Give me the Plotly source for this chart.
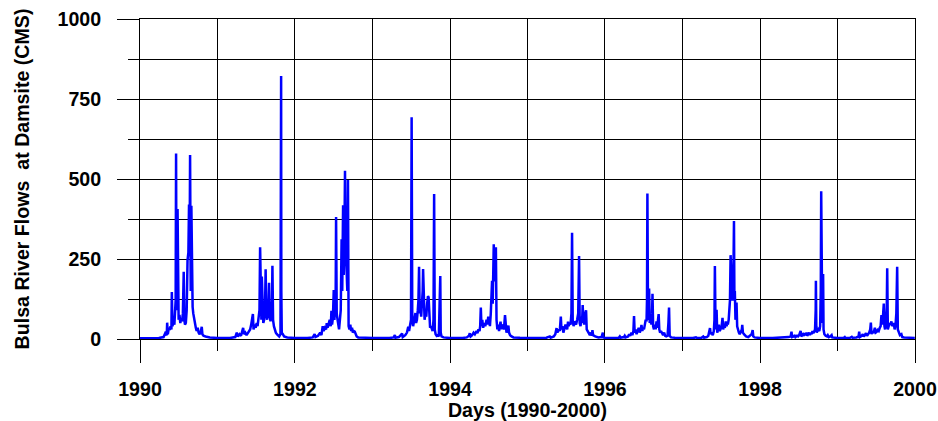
import pandas as pd
import plotly.graph_objects as go

# ---- Data (day-of-year, flow in CMS) ----
days_1990 = [1, 90, 112, 120, 127, 129, 132, 137, 141, 145, 149, 151, 154, 158, 163, 166, 169, 171, 173, 176, 178, 180, 183, 187, 191, 195, 199, 203, 207, 210, 213, 217, 221, 225, 229, 232, 235, 237, 240, 243, 246, 249, 252, 256, 260, 264, 268, 273, 277, 282, 287, 292, 295, 300, 310, 330, 365]
flow_1990 = [2, 3, 6, 18, 12, 51, 15, 35, 28, 40, 30, 147, 40, 55, 45, 70, 120, 580, 90, 150, 406, 70, 60, 75, 50, 65, 55, 80, 210, 60, 45, 50, 90, 247, 270, 420, 300, 575, 150, 416, 120, 100, 80, 60, 45, 35, 25, 35, 20, 15, 22, 38, 15, 10, 8, 5, 3]

days_1991 = [1, 60, 85, 92, 97, 105, 112, 118, 122, 126, 132, 138, 145, 150, 155, 160, 165, 168, 171, 176, 181, 186, 190, 195, 199, 202, 205, 208, 210, 213, 217, 221, 225, 228, 231, 235, 238, 241, 244, 247, 251, 255, 258, 260, 263, 267, 271, 276, 281, 286, 292, 298, 300, 301, 302, 304, 309, 315, 330, 365]
flow_1991 = [3, 3, 6, 20, 8, 15, 10, 25, 35, 15, 20, 12, 18, 25, 30, 45, 60, 78, 30, 45, 35, 50, 40, 60, 90, 287, 80, 60, 195, 70, 50, 60, 90, 218, 80, 60, 110, 100, 176, 70, 55, 80, 120, 229, 60, 40, 30, 20, 15, 10, 8, 15, 400, 822, 150, 20, 15, 8, 5, 3]

days_1992 = [1, 60, 85, 94, 98, 110, 120, 126, 132, 136, 142, 148, 151, 155, 160, 165, 170, 173, 176, 180, 184, 187, 190, 193, 195, 198, 202, 206, 209, 213, 217, 221, 224, 228, 231, 234, 237, 240, 244, 248, 251, 254, 258, 262, 266, 270, 274, 278, 283, 287, 292, 299, 320, 365]
flow_1992 = [3, 3, 5, 15, 6, 10, 20, 12, 40, 25, 35, 30, 50, 35, 45, 60, 40, 88, 45, 65, 153, 60, 90, 130, 381, 80, 60, 45, 30, 60, 90, 312, 150, 418, 200, 300, 526, 300, 200, 150, 497, 40, 30, 45, 25, 35, 20, 25, 23, 12, 8, 5, 4, 3]

days_1993 = [1, 80, 100, 106, 109, 125, 140, 143, 155, 163, 169, 173, 178, 182, 185, 188, 192, 196, 200, 203, 206, 210, 214, 217, 220, 223, 226, 230, 234, 237, 239, 242, 246, 250, 254, 258, 262, 265, 268, 272, 276, 280, 284, 288, 291, 294, 298, 303, 308, 313, 318, 320, 322, 326, 335, 365]
flow_1993 = [3, 3, 5, 12, 4, 6, 17, 6, 12, 20, 38, 25, 45, 60, 693, 60, 40, 55, 70, 81, 50, 60, 90, 120, 226, 80, 100, 70, 120, 150, 219, 90, 60, 80, 70, 110, 134, 130, 50, 35, 40, 30, 25, 60, 453, 30, 15, 10, 12, 8, 100, 197, 20, 8, 5, 3]

days_1994 = [1, 60, 80, 90, 94, 98, 105, 112, 118, 126, 130, 135, 140, 143, 146, 149, 153, 157, 162, 167, 173, 177, 181, 185, 189, 193, 196, 199, 202, 205, 207, 210, 214, 217, 220, 224, 228, 232, 236, 239, 242, 246, 251, 255, 260, 263, 267, 272, 276, 279, 284, 291, 300, 330, 365]
flow_1994 = [3, 3, 5, 10, 18, 8, 12, 20, 15, 25, 18, 30, 25, 40, 98, 40, 60, 35, 50, 40, 60, 45, 70, 60, 40, 80, 128, 182, 110, 180, 296, 200, 180, 287, 60, 30, 45, 25, 40, 54, 30, 45, 40, 30, 75, 35, 20, 28, 42, 20, 12, 8, 5, 4, 3]

days_1995 = [1, 60, 90, 106, 110, 125, 132, 138, 142, 148, 153, 158, 161, 165, 170, 175, 180, 185, 188, 192, 195, 200, 204, 208, 211, 214, 218, 222, 226, 230, 235, 240, 244, 247, 251, 255, 258, 261, 264, 268, 273, 277, 280, 285, 290, 295, 300, 304, 307, 310, 320, 335, 350, 356, 358, 365]
flow_1995 = [3, 3, 4, 8, 4, 8, 15, 34, 20, 30, 25, 70, 30, 40, 20, 35, 45, 40, 30, 54, 40, 50, 45, 80, 332, 60, 40, 55, 50, 45, 60, 80, 259, 50, 40, 70, 50, 106, 60, 45, 80, 90, 30, 25, 18, 12, 20, 10, 28, 12, 8, 5, 6, 20, 5, 3]

days_1996 = [1, 50, 66, 71, 75, 90, 94, 98, 110, 115, 120, 126, 130, 135, 138, 141, 145, 150, 155, 160, 165, 170, 173, 177, 181, 185, 189, 193, 197, 199, 201, 204, 207, 209, 212, 216, 220, 223, 225, 228, 232, 236, 240, 244, 248, 251, 254, 257, 261, 265, 270, 275, 280, 285, 290, 296, 300, 303, 306, 312, 330, 365]
flow_1996 = [3, 3, 4, 8, 4, 6, 10, 5, 8, 15, 10, 20, 12, 25, 72, 20, 30, 15, 25, 35, 20, 30, 44, 25, 35, 30, 45, 60, 55, 120, 455, 60, 80, 158, 50, 60, 45, 80, 141, 40, 30, 45, 30, 55, 35, 60, 78, 30, 20, 25, 15, 12, 20, 10, 8, 10, 50, 98, 10, 5, 4, 3]

days_1997 = [1, 50, 64, 70, 90, 98, 102, 115, 122, 126, 130, 133, 138, 143, 148, 151, 153, 156, 158, 161, 164, 168, 172, 176, 180, 185, 189, 192, 196, 200, 204, 208, 211, 214, 218, 221, 224, 227, 230, 233, 236, 240, 243, 245, 247, 250, 253, 255, 258, 262, 266, 270, 275, 280, 282, 285, 290, 295, 300, 310, 320, 326, 331, 334, 340, 365]
flow_1997 = [3, 3, 5, 3, 4, 8, 4, 6, 10, 20, 34, 15, 20, 12, 25, 60, 228, 40, 30, 91, 20, 30, 45, 25, 35, 40, 66, 30, 40, 35, 55, 40, 50, 45, 60, 100, 120, 262, 200, 150, 120, 180, 369, 120, 150, 60, 90, 114, 40, 25, 20, 15, 25, 30, 44, 20, 15, 10, 8, 6, 10, 15, 28, 8, 5, 3]

days_1998 = [1, 60, 100, 120, 135, 145, 149, 152, 160, 165, 168, 175, 180, 185, 189, 192, 195, 200, 203, 207, 212, 216, 220, 223, 228, 232, 236, 240, 244, 248, 252, 256, 260, 263, 264, 266, 268, 271, 275, 280, 284, 287, 289, 291, 294, 296, 298, 300, 304, 310, 316, 320, 325, 332, 338, 341, 350, 365]
flow_1998 = [3, 3, 4, 5, 6, 8, 23, 6, 8, 12, 6, 10, 8, 12, 20, 25, 8, 12, 15, 10, 18, 12, 20, 10, 15, 20, 12, 20, 15, 25, 18, 22, 30, 90, 182, 40, 20, 25, 30, 25, 40, 150, 462, 120, 50, 80, 203, 30, 15, 10, 8, 12, 6, 8, 12, 5, 4, 3]

days_1999 = [1, 30, 35, 38, 60, 68, 72, 90, 100, 103, 106, 115, 120, 125, 130, 135, 140, 145, 150, 155, 158, 161, 165, 170, 174, 177, 181, 185, 190, 195, 200, 204, 208, 211, 215, 219, 222, 225, 230, 233, 235, 238, 242, 246, 250, 255, 258, 262, 266, 270, 274, 278, 280, 282, 285, 290, 295, 302, 306, 315, 330, 365]
flow_1999 = [3, 3, 6, 3, 4, 7, 4, 5, 8, 23, 6, 10, 15, 8, 12, 18, 10, 15, 20, 30, 51, 15, 25, 18, 30, 35, 20, 22, 28, 25, 35, 40, 75, 45, 70, 111, 40, 30, 50, 100, 221, 30, 40, 50, 45, 55, 40, 45, 50, 30, 40, 80, 180, 226, 30, 20, 12, 15, 6, 5, 4, 3]

years = list(range(1990, 2000))
day_lists = [days_1990, days_1991, days_1992, days_1993, days_1994,
             days_1995, days_1996, days_1997, days_1998, days_1999]
flow_lists = [flow_1990, flow_1991, flow_1992, flow_1993, flow_1994,
              flow_1995, flow_1996, flow_1997, flow_1998, flow_1999]

y_ticks = [0, 250, 500, 750, 1000]
x_tick_labels = ["1990", "1992", "1994", "1996", "1998", "2000"]

# ---- build the series ----
dates, flows = [], []
for yr, dl, fl in zip(years, day_lists, flow_lists):
    start = pd.Timestamp(f"{yr}-01-01")
    for d, v in zip(dl, fl):
        dates.append(start + pd.Timedelta(days=d - 1))
        flows.append(v)

FONT = "Liberation Sans, Arial, sans-serif"
FS = 19.6

fig = go.Figure()
fig.add_trace(go.Scatter(
    x=dates, y=flows, mode="lines",
    line=dict(color="#0000FF", width=2.5),
    hoverinfo="skip", showlegend=False,
))

fig.update_layout(
    width=938, height=421,
    margin=dict(l=140, r=23, t=19, b=82),
    paper_bgcolor="white", plot_bgcolor="white",
    font=dict(family=FONT, size=FS, color="black"),
)

fig.update_xaxes(
    type="date",
    automargin=False,
    range=["1990-01-01", "2000-01-01"],
    tickvals=[f"{t}-01-01" for t in x_tick_labels],
    ticktext=[f"<b>{t}</b>" for t in x_tick_labels],
    ticks="outside", ticklen=23, tickwidth=1, tickcolor="black",
    ticklabelstandoff=9,
    showgrid=True, gridcolor="black", gridwidth=1,
    minor=dict(dtick="M12", tick0="1990-01-01", ticks="outside", ticklen=11,
               tickcolor="black", showgrid=True, gridcolor="black", gridwidth=1),
    showline=True, linecolor="black", linewidth=1, mirror=True,
    zeroline=False,
    layer="below traces",
    title=dict(text="<b>Days (1990-2000)</b>", font=dict(size=FS), standoff=1),
)

fig.update_yaxes(
    automargin=False,
    range=[0, 1000],
    tickvals=y_ticks,
    ticktext=[f"<b>{v}</b>" for v in y_ticks],
    ticks="outside", ticklen=22, tickwidth=1, tickcolor="black",
    ticklabelstandoff=12,
    showgrid=True, gridcolor="black", gridwidth=1,
    minor=dict(dtick=125, tick0=0, ticks="outside", ticklen=11,
               tickcolor="black", showgrid=True, gridcolor="black", gridwidth=1),
    showline=True, linecolor="black", linewidth=1, mirror=True,
    zeroline=False,
    layer="below traces",
    title=dict(text="<b>Bulsa River Flows\u00a0 at Damsite (CMS)</b>", font=dict(size=FS), standoff=22),
)

fig.write_html(
    "out.html",
    config={"displayModeBar": False},
    post_script="document.body.style.margin='0';document.body.style.overflow='hidden';",
)
